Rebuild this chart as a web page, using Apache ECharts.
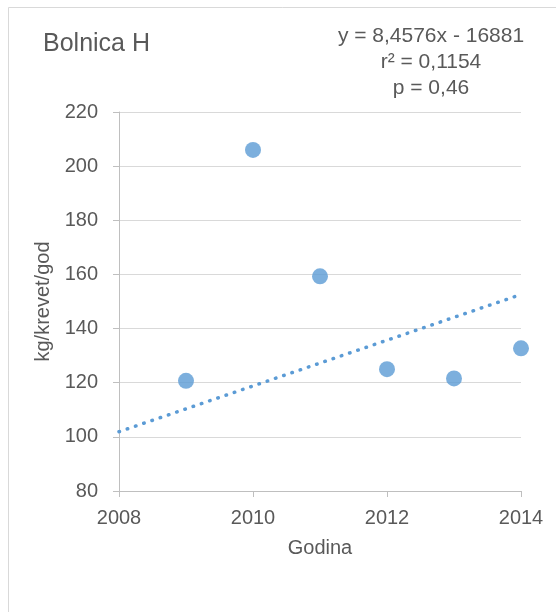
<!DOCTYPE html>
<html>
<head>
<meta charset="utf-8">
<script src="https://cdn.jsdelivr.net/npm/echarts@6/dist/echarts.min.js"></script>
<style>html,body{margin:0;padding:0;background:#fff;}#c{width:556px;height:612px;}</style>
</head>
<body>
<div id="c"></div>
<script>
const years = [2009, 2010, 2011, 2012, 2013, 2014];
const values = [120.7, 206.0, 159.3, 125.0, 121.6, 132.7];
const trendYears = [2008, 2014];
const trendValues = [101.9, 152.6];
const xTicks = [2008, 2010, 2012, 2014];
const yTicks = [80, 100, 120, 140, 160, 180, 200, 220];
const titleText = 'Bolnica H';
const statLines = ['y = 8,4576x - 16881', 'r² = 0,1154', 'p = 0,46'];
const xName = 'Godina';
const yName = 'kg/krevet/god';

const font = 'Arial, "Liberation Sans", sans-serif';
const txt = '#595959';
const blue = '#5B9BD5';
const statY = [36, 62, 88];

const chart = echarts.init(document.getElementById('c'), null, {renderer: 'canvas'});
chart.setOption({
  animation: false,
  backgroundColor: '#fff',
  grid: {left: 119, right: 35, top: 112, bottom: 121},
  graphic: [
    {type: 'rect', shape: {x: 8.5, y: 7.5, width: 700, height: 800}, style: {fill: 'none', stroke: '#d9d9d9', lineWidth: 1}},
    {type: 'text', x: 43, y: 44, style: {text: titleText, font: '25px ' + font, fill: txt, verticalAlign: 'middle'}}
  ].concat(statLines.map((s, i) => ({
    type: 'text', x: 431, y: statY[i],
    style: {text: s, font: '21px ' + font, fill: txt, align: 'center', verticalAlign: 'middle'}
  }))),
  xAxis: {
    type: 'value', min: xTicks[0], max: xTicks[xTicks.length - 1], interval: 2,
    name: xName, nameLocation: 'middle', nameGap: 47,
    nameTextStyle: {fontSize: 20, color: txt, fontFamily: font},
    axisLine: {show: true, lineStyle: {color: '#bfbfbf', width: 1}},
    axisTick: {show: true, length: 6, lineStyle: {color: '#bfbfbf'}},
    axisLabel: {fontSize: 20, color: txt, fontFamily: font, margin: 17, formatter: v => String(v)},
    splitLine: {show: false}
  },
  yAxis: {
    type: 'value', min: yTicks[0], max: yTicks[yTicks.length - 1], interval: 20,
    name: yName, nameLocation: 'middle', nameGap: 63, nameRotate: 90,
    nameTextStyle: {fontSize: 20, color: txt, fontFamily: font},
    axisLine: {show: true, lineStyle: {color: '#bfbfbf', width: 1}},
    axisTick: {show: true, length: 6, lineStyle: {color: '#bfbfbf'}},
    axisLabel: {fontSize: 20, color: txt, fontFamily: font, margin: 21},
    splitLine: {show: true, lineStyle: {color: '#d9d9d9', width: 1}}
  },
  series: [
    {
      type: 'line', data: trendYears.map((x, i) => [x, trendValues[i]]),
      showSymbol: false, symbol: 'none', z: 2,
      lineStyle: {color: blue, width: 3.5, type: [0.5, 8.2], cap: 'round'}
    },
    {
      type: 'scatter', data: years.map((x, i) => [x, values[i]]),
      symbol: 'circle', symbolSize: 16, z: 3,
      itemStyle: {color: blue}
    }
  ]
});
</script>
</body>
</html>
